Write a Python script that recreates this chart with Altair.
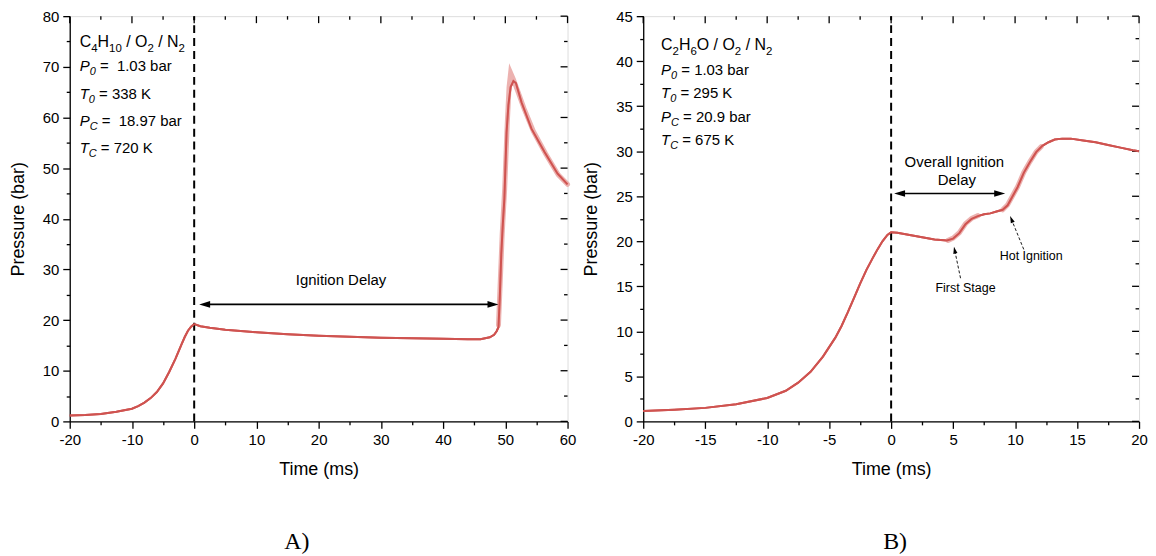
import math
import altair as alt
import pandas as pd

# ---------------- panel A : C4H10 / O2 / N2 ----------------
time_a = [-20, -17.5, -15, -12.5, -10, -9, -8, -7, -6, -5, -4, -3, -2, -1.5, -1, -0.5, 0,
          1, 2.5, 5, 10, 15, 20, 25, 30, 35, 40, 44, 46, 47.5, 48.2, 48.6, 48.9,
          49.1, 49.35, 49.6, 49.85, 50.2, 50.5, 50.85, 51.3, 51.7, 52.6, 54.2, 56.3, 58.4, 60]
pres_a = [1.15, 1.25, 1.45, 1.9, 2.5, 3.0, 3.7, 4.6, 5.8, 7.5, 9.8, 12.4, 15.3, 16.7, 17.9, 18.7, 19.2,
          18.8, 18.5, 18.1, 17.6, 17.2, 16.9, 16.7, 16.5, 16.4, 16.3, 16.2, 16.2, 16.6, 17.1, 17.8, 18.6,
          24, 33, 39, 44, 57, 62.5, 66, 67.2, 66.8, 63, 57.8, 53.2, 48.9, 46.8]
# scatter band around the ignition event
band_time_a = [48.9, 49.2, 49.5, 49.9, 50.3, 50.6, 50.85, 51.3, 52.0, 53.0, 54.5, 56.5, 58.5, 60]
band_pres_a = [19.0, 28, 37, 46, 58.5, 66.0, 68.8, 67.5, 65.2, 61.8, 57.3, 52.8, 48.7, 46.8]
band_seg_a = [1] * 14

# ---------------- panel B : C2H6O / O2 / N2 ----------------
time_b = [-20, -17.5, -15, -12.5, -10, -8.5, -7.5, -6.5, -5.5, -4.5, -4.0, -3.5, -3.0, -2.5, -2.0,
          -1.5, -1.1, -0.7, -0.3, 0, 0.5, 1.5, 2.5, 3.5, 4.5, 5.0, 5.5, 6.0, 6.5, 7.0, 7.5, 8.0, 8.5, 9.0,
          9.4, 9.8, 10.2, 10.7, 11.2, 11.7, 12.2, 12.7, 13.2, 13.8, 14.5, 15.5, 16.5, 17.5, 18.5, 19.5, 20]
pres_b = [1.15, 1.3, 1.5, 1.9, 2.6, 3.4, 4.3, 5.5, 7.2, 9.3, 10.6, 12.1, 13.7, 15.3, 16.8,
          18.1, 19.1, 20.0, 20.7, 21.0, 20.95, 20.7, 20.45, 20.2, 20.1, 20.3, 20.9, 21.9, 22.5, 22.8,
          23.0, 23.1, 23.3, 23.5,
          24.0, 25.0, 26.0, 27.6, 28.8, 29.9, 30.6, 31.0, 31.3, 31.4, 31.4, 31.2, 31.0, 30.7, 30.4, 30.1, 30.0]
band_time_b = [4.6, 5.0, 5.5, 6.0, 6.5, 7.0, 9.0, 9.4, 9.8, 10.2, 10.7, 11.2, 11.7, 12.1]
band_pres_b = [20.1, 20.35, 20.95, 21.95, 22.55, 22.85, 23.5, 24.05, 25.05, 26.05, 27.65, 28.85, 29.95, 30.5]
band_seg_b = [1, 1, 1, 1, 1, 1, 2, 2, 2, 2, 2, 2, 2, 2]

# ---------------- annotation texts ----------------
info_a = [
    [("C", "n"), ("4", "s"), ("H", "n"), ("10", "s"), (" / O", "n"), ("2", "s"), (" / N", "n"), ("2", "s")],
    [("P", "i"), ("0", "si"), (" =  1.03 bar", "n")],
    [("T", "i"), ("0", "si"), (" = 338 K", "n")],
    [("P", "i"), ("C", "si"), (" =  18.97 bar", "n")],
    [("T", "i"), ("C", "si"), (" = 720 K", "n")],
]
info_b = [
    [("C", "n"), ("2", "s"), ("H", "n"), ("6", "s"), ("O / O", "n"), ("2", "s"), (" / N", "n"), ("2", "s")],
    [("P", "i"), ("0", "si"), (" = 1.03 bar", "n")],
    [("T", "i"), ("0", "si"), (" = 295 K", "n")],
    [("P", "i"), ("C", "si"), (" = 20.9 bar", "n")],
    [("T", "i"), ("C", "si"), (" = 675 K", "n")],
]
labels_a = ["Ignition Delay"]
labels_b = ["Overall Ignition", "Delay", "First Stage", "Hot Ignition"]

# ---------------- style / layout ----------------
W_A, W_B, H = 500, 498, 407
RED = "#cf5350"
BAND = "#e9a4a2"
FONT = "Liberation Sans"
SERIF = "Liberation Serif"
NBSP = "\u00a0"

ARIAL = {' ': 0.278, '/': 0.278, '.': 0.278, '=': 0.584, 'C': 0.722, 'H': 0.722, 'O': 0.778,
         'N': 0.722, 'P': 0.667, 'T': 0.611, 'K': 0.667, 'b': 0.556, 'a': 0.556, 'r': 0.333}


def text_width(s, size):
    return sum(ARIAL.get(c, 0.556) for c in s) * size


def run_rows(lines, x0, baselines, xpx, ypx, first_sizes, other_sizes):
    rows = []
    for k, (runs, yb) in enumerate(zip(lines, baselines)):
        base, sub = first_sizes if k == 0 else other_sizes
        px = 0.0
        for txt, kind in runs:
            is_sub = kind in ("s", "si")
            size = sub if is_sub else base
            drop = (4.5 if k == 0 else 4.0) if is_sub else 0.0
            lead = len(txt) - len(txt.lstrip(" "))
            shown = txt.lstrip(" ").replace(" ", NBSP)
            rows.append(dict(x=x0 + (px + lead * 0.278 * size) / xpx, y=yb - drop / ypx,
                             text=shown, size=size, italic=kind in ("i", "si")))
            px += text_width(txt, size)
    return pd.DataFrame(rows)


def head(tip, frm, length, xpx, ypx):
    dxp = (tip[0] - frm[0]) * xpx
    dyp = -(tip[1] - frm[1]) * ypx
    d = math.hypot(dxp, dyp)
    ux, uy = dxp / d, dyp / d
    cx = tip[0] - ux * length / 2 / xpx
    cy = tip[1] + uy * length / 2 / ypx
    ang = math.degrees(math.atan2(ux, -uy)) % 360
    shaft_end = (tip[0] - ux * length * 0.8 / xpx, tip[1] + uy * length * 0.8 / ypx)
    return dict(x=cx, y=cy, ang=ang, sz=length ** 2), shaft_end


HEAD_SHAPE = "M0,-1L0.6,1L-0.6,1Z"
FRAME = dict(grid=False, tickColor="black", tickWidth=1.3, domainColor="black", domainWidth=1.3)


def tick_size(major):
    return {"condition": {"test": f"datum.value % {major} != 0", "value": 3.5}, "value": 7}


def main_axis(vals, major, title, orient, tpad):
    return alt.Axis(values=vals, title=title, orient=orient,
                    labelExpr=f"datum.value % {major} == 0 ? toString(datum.value) : ''",
                    tickSize=tick_size(major),
                    labelFont=FONT, labelFontSize=15, labelColor="black", labelPadding=4,
                    labelOverlap=False, labelFlush=False,
                    titleFont=FONT, titleFontSize=18, titleFontWeight="normal",
                    titleColor="black", titlePadding=tpad, **FRAME)


def panel(t, p, bt, bp, bseg, xdom, xmajor, ydom, ymajor, W, info, info_x, info_base,
          labels, label_pos, label_sizes, darrow, dashed, title, title_dx):
    xpx = W / (xdom[1] - xdom[0])
    ypx = H / (ydom[1] - ydom[0])
    xs = alt.Scale(domain=xdom, nice=False, zero=False)
    ys = alt.Scale(domain=ydom, nice=False, zero=False)
    n_x = int(round((xdom[1] - xdom[0]) / (xmajor / 2))) + 1
    n_y = int(round((ydom[1] - ydom[0]) / (ymajor / 2))) + 1
    xvals = [xdom[0] + i * xmajor / 2 for i in range(n_x)]
    yvals = [ydom[0] + i * ymajor / 2 for i in range(n_y)]

    def X(f, axis=None):
        return alt.X(f, scale=xs, axis=axis)

    def Y(f, axis=None):
        return alt.Y(f, scale=ys, axis=axis)

    band = alt.Chart(pd.DataFrame({"t": bt, "p": bp, "seg": bseg})).mark_line(
        color=BAND, strokeWidth=5, strokeCap="round", opacity=0.85).encode(
        x=X("t:Q"), y=Y("p:Q"), detail="seg:N")
    line = alt.Chart(pd.DataFrame({"t": t, "p": p})).mark_line(
        color=RED, strokeWidth=2).encode(
        x=X("t:Q", main_axis(xvals, xmajor, "Time (ms)", "bottom", 13)),
        y=Y("p:Q", main_axis(yvals, ymajor, "Pressure (bar)", "left", 15)))
    vline = alt.Chart(pd.DataFrame({"t": [0], "y0": [ydom[0]], "y1": [ydom[1]]})).mark_rule(
        color="black", strokeWidth=2, strokeDash=[8, 5]).encode(
        x=X("t:Q"), y=Y("y0:Q"), y2="y1:Q")

    # inward ticks on the top and right edges of the frame
    top_df = pd.DataFrame({"v": xvals, "edge": [ydom[1]] * len(xvals),
                           "major": [abs(v % xmajor) < 1e-9 for v in xvals]})
    right_df = pd.DataFrame({"v": yvals, "edge": [xdom[1]] * len(yvals),
                             "major": [abs(v % ymajor) < 1e-9 for v in yvals]})
    frame_layers = []
    for is_major, size in ((True, 7), (False, 3.5)):
        frame_layers.append(alt.Chart(top_df[top_df.major == is_major]).mark_tick(
            orient="vertical", size=size, thickness=1.3, yOffset=size / 2, color="black", opacity=1).encode(
            x=X("v:Q"), y=Y("edge:Q")))
        frame_layers.append(alt.Chart(right_df[right_df.major == is_major]).mark_tick(
            orient="horizontal", size=size, thickness=1.3, xOffset=-size / 2, color="black", opacity=1).encode(
            x=X("edge:Q"), y=Y("v:Q")))

    df_info = run_rows(info, info_x, info_base, xpx, ypx, (16, 11.5), (15, 11))
    t_norm = alt.Chart(df_info[~df_info.italic]).mark_text(
        align="left", baseline="alphabetic", font=FONT, color="black").encode(
        x=X("x:Q"), y=Y("y:Q"), text="text:N", size=alt.Size("size:Q", scale=None, legend=None))
    t_ital = alt.Chart(df_info[df_info.italic]).mark_text(
        align="left", baseline="alphabetic", font=FONT, color="black", fontStyle="italic").encode(
        x=X("x:Q"), y=Y("y:Q"), text="text:N", size=alt.Size("size:Q", scale=None, legend=None))
    df_lab = pd.DataFrame({"x": [q[0] for q in label_pos], "y": [q[1] for q in label_pos],
                           "text": labels, "size": label_sizes})
    t_lab = alt.Chart(df_lab).mark_text(
        align="center", baseline="alphabetic", font=FONT, color="black").encode(
        x=X("x:Q"), y=Y("y:Q"), text="text:N", size=alt.Size("size:Q", scale=None, legend=None))

    # arrows
    heads, solid, dash = [], [], []
    y, a0, a1 = darrow
    h1, e1 = head((a0, y), (a1, y), 11, xpx, ypx)
    h2, e2 = head((a1, y), (a0, y), 11, xpx, ypx)
    heads += [h1, h2]
    solid.append(dict(x=e1[0], y=y, x2=e2[0], y2=y))
    for frm, tip in dashed:
        h, e = head(tip, frm, 7, xpx, ypx)
        heads.append(h)
        dash.append(dict(x=frm[0], y=frm[1], x2=e[0], y2=e[1]))
    layers = [line, band, vline] + frame_layers + [t_norm, t_ital, t_lab]
    layers.append(alt.Chart(pd.DataFrame(solid)).mark_rule(color="black", strokeWidth=1.6).encode(
        x=X("x:Q"), y=Y("y:Q"), x2="x2:Q", y2="y2:Q"))
    if dash:
        layers.append(alt.Chart(pd.DataFrame(dash)).mark_rule(
            color="black", strokeWidth=0.9, strokeDash=[3, 2]).encode(
            x=X("x:Q"), y=Y("y:Q"), x2="x2:Q", y2="y2:Q"))
    layers.append(alt.Chart(pd.DataFrame(heads)).mark_point(
        shape=HEAD_SHAPE, filled=True, color="black", opacity=1, strokeWidth=0).encode(
        x=X("x:Q"), y=Y("y:Q"), angle=alt.Angle("ang:Q", scale=None),
        size=alt.Size("sz:Q", scale=None, legend=None)))
    # draw the red curve on top of its pale band
    layers.append(alt.Chart(pd.DataFrame({"t": t, "p": p})).mark_line(
        color=RED, strokeWidth=2).encode(x=X("t:Q"), y=Y("p:Q")))

    return alt.layer(*layers).resolve_axis(x="independent", y="independent").properties(
        width=W, height=H,
        title=alt.TitleParams(title, orient="bottom", font=SERIF, fontSize=24, fontWeight="normal",
                              color="black", anchor="middle", frame="group", offset=52,
                              baseline="top", dx=title_dx))


pa = panel(time_a, pres_a, band_time_a, band_pres_a, band_seg_a, [-20, 60], 10, [0, 80], 10, W_A,
           info_a, -18.4, [73.9, 69.1, 63.7, 58.3, 52.9],
           labels_a, [(23.6, 26.9)], [15],
           (23.1, 0.8, 48.9), [], "A)", -22)
pb = panel(time_b, pres_b, band_time_b, band_pres_b, band_seg_b, [-20, 20], 5, [0, 45], 5, W_B,
           info_b, -18.56, [41.2, 38.5, 35.9, 33.2, 30.7],
           labels_b, [(5.1, 28.3), (5.3, 26.3), (6.0, 14.4), (11.3, 17.9)], [15, 15, 12.5, 12.5],
           (25.3, 0.24, 9.2), [((5.6, 15.9), (5.07, 19.4)), ((10.7, 19.1), (9.6, 22.8))], "B)", 4)

chart = alt.hconcat(pa, pb, spacing=3).properties(
    padding={"left": 0, "top": -1, "right": 0, "bottom": 0}
).configure_view(stroke="black", strokeWidth=1.3).configure(background="white")

chart.save("out.html", embed_options={"renderer": "svg", "actions": False})
